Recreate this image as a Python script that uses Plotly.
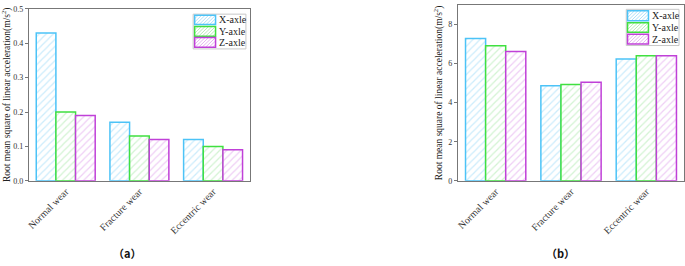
import plotly.graph_objects as go

categories = ["Normal wear", "Fracture wear", "Eccentric wear"]
series_names = ["X-axle", "Y-axle", "Z-axle"]
a_x = [0.43, 0.17, 0.12]
a_y = [0.20, 0.13, 0.10]
a_z = [0.19, 0.12, 0.09]
b_x = [7.28, 4.86, 6.24]
b_y = [6.91, 4.93, 6.40]
b_z = [6.62, 5.04, 6.40]

W, H = 685, 266
line_colors = ["#4cc3f7", "#40e040", "#c040d8"]
hatch_colors = ["#9ad9f8", "#a8e8a8", "#e0a0ec"]
FONT = "Liberation Serif, Times New Roman, serif"
CJK = "'Noto Sans CJK SC', 'Noto Sans CJK JP', sans-serif"

fig = go.Figure()
for vals, xa, ya in [((a_x, a_y, a_z), "x", "y"), ((b_x, b_y, b_z), "x2", "y2")]:
    for i, v in enumerate(vals):
        fig.add_trace(go.Bar(
            x=categories, y=v, name=series_names[i], showlegend=False,
            xaxis=xa, yaxis=ya,
            marker=dict(color="white",
                        line=dict(color=line_colors[i], width=1.5),
                        pattern=dict(shape="/", fgcolor=hatch_colors[i],
                                     bgcolor="white", size=5, solidity=0.25)),
        ))

def px(x):
    return x / W

def py(y):
    return 1 - y / H

shapes, annotations = [], []

def hatch_path(x0, y0, x1, y1, step=3.5):
    segs = []
    c = x0 + y0 + step
    while c < x1 + y1:
        xa = max(x0, c - y1)
        xb = min(x1, c - y0)
        if xb > xa:
            segs.append(f"M{px(xa):.5f},{py(c - xa):.5f} L{px(xb):.5f},{py(c - xb):.5f}")
        c += step
    return " ".join(segs)

def custom_legend(box, sw_x, rows, text_x):
    bx0, by0, bx1, by1 = box
    shapes.append(dict(type="rect", xref="paper", yref="paper",
                       x0=px(bx0), x1=px(bx1), y0=py(by1), y1=py(by0),
                       line=dict(color="#c8c8c8", width=1), fillcolor="white"))
    for i, (ry0, ry1) in enumerate(rows):
        shapes.append(dict(type="path", xref="paper", yref="paper",
                           path=hatch_path(sw_x[0], ry0, sw_x[1], ry1),
                           line=dict(color=hatch_colors[i], width=0.8)))
        shapes.append(dict(type="rect", xref="paper", yref="paper",
                           x0=px(sw_x[0]), x1=px(sw_x[1]), y0=py(ry1), y1=py(ry0),
                           line=dict(color=line_colors[i], width=1.5)))
        annotations.append(dict(text=series_names[i], xref="paper", yref="paper",
                                x=px(text_x), y=py((ry0 + ry1) / 2),
                                xanchor="left", yanchor="middle", showarrow=False,
                                font=dict(family=FONT, size=10, color="#222")))

custom_legend((191, 10.5, 244, 46.5), (192.5, 213.5),
              [(11.7, 21.3), (23.3, 33.3), (34.7, 44.7)], 215)
custom_legend((626, 5.5, 679, 43), (627.3, 648.3),
              [(7, 17.3), (19.3, 29.3), (31.3, 41.3)], 650)

annotations.append(dict(text="（a）", x=px(125), y=py(258), xref="paper", yref="paper",
                        xanchor="center", yanchor="middle", showarrow=False,
                        font=dict(family=CJK, size=11, color="#111", weight="bold")))
annotations.append(dict(text="（b）", x=px(560), y=py(258), xref="paper", yref="paper",
                        xanchor="center", yanchor="middle", showarrow=False,
                        font=dict(family=CJK, size=11, color="#111", weight="bold")))

ytitle = "Root mean square of linear acceleration(m/s<sup>2</sup>)"
axis_common = dict(showline=True, linecolor="#777", linewidth=1.2, mirror=True,
                   showgrid=False, zeroline=False)
xcommon = dict(tickangle=-45, ticks="", tickfont=dict(family=FONT, size=10, color="#333"), **axis_common)
ycommon = dict(ticks="outside", ticklen=3, tickcolor="#777",
               tickfont=dict(family=FONT, size=8, color="#333"), **axis_common)
ytitle_d = dict(text=ytitle, font=dict(family=FONT, size=9.5, color="#222"), standoff=3)

fig.update_layout(
    width=W, height=H,
    margin=dict(l=0, r=0, t=0, b=0),
    paper_bgcolor="white", plot_bgcolor="white",
    barmode="group", bargap=0.2, bargroupgap=0,
    font=dict(family=FONT, color="#222"),
    showlegend=False,
    xaxis=dict(domain=[px(26), px(248)], anchor="y", **xcommon),
    yaxis=dict(domain=[py(183), py(5)], anchor="x", range=[0, 0.5], dtick=0.1,
               tickformat=".1f", title=ytitle_d, **ycommon),
    xaxis2=dict(domain=[px(457), px(684)], anchor="y2", **xcommon),
    yaxis2=dict(domain=[py(183), py(1)], anchor="x2", range=[0, 9], dtick=2,
                title=ytitle_d, **ycommon),
    shapes=shapes,
    annotations=annotations,
)

fig.write_html("out.html", config={"displayModeBar": False},
               post_script="document.body.style.margin='0';document.body.style.overflow='hidden';")
